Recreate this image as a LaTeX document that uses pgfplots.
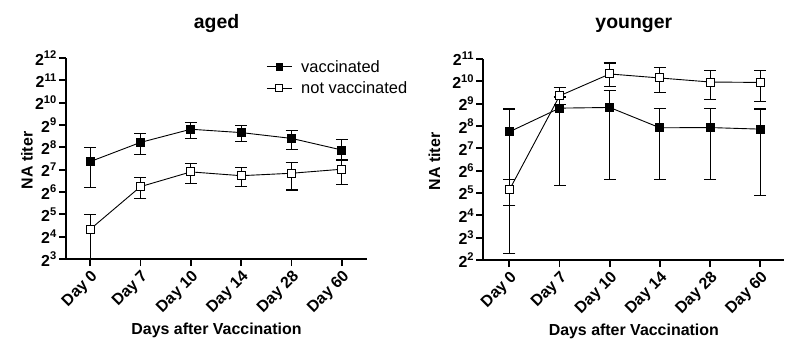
\documentclass[border=0pt]{standalone}
\usepackage{fontspec}
\setmainfont{Liberation Sans}
\usepackage{pgfplots}
\pgfplotsset{compat=1.18}
\usepackage{pgfplotstable}

\pgfplotstableread{
x y hi lo
0 7.36 8.01 6.20
1 8.22 8.61 7.69
2 8.81 9.12 8.40
3 8.66 8.97 8.27
4 8.40 8.75 7.91
5 7.88 8.34 7.46
}\agedvac
\pgfplotstableread{
x y hi lo
0 4.33 4.98 3.03
1 6.24 6.64 5.70
2 6.90 7.27 6.40
3 6.73 7.10 6.26
4 6.84 7.31 6.09
5 7.02 7.43 6.34
}\agednot
\pgfplotstableread{
x y hi lo
0 7.74 8.76 2.30
1 8.80 9.30 5.32
2 8.83 9.58 5.62
3 7.92 8.77 5.60
4 7.93 8.77 5.60
5 7.86 8.76 4.88
}\youngvac
\pgfplotstableread{
x y hi lo
0 5.14 5.62 4.43
1 9.35 9.74 8.95
2 10.33 10.82 9.77
3 10.15 10.60 9.52
4 9.97 10.49 9.19
5 9.95 10.50 9.09
}\youngnot

\pgfplotsset{
  mystyle/.style={
    scale only axis, width=301bp, height=201bp,
    axis lines*=left,
    axis line style={line width=2.2bp, black},
    major tick length=7bp,
    tick style={line width=1.8bp, black},
    tick align=outside,
    xtick={0,...,5},
    xticklabels={Day 0, Day 7, Day 10, Day 14, Day 28, Day 60},
    x tick label style={rotate=45, anchor=north east, font=\fontsize{16}{16}\selectfont\bfseries, inner sep=2bp},
    y tick label style={font=\fontsize{16}{16}\selectfont\bfseries, inner sep=2bp},
    yticklabel={\pgfmathtruncatemacro{\e}{\tick}2\textsuperscript{\e}},
    xlabel={Days after Vaccination},
    ylabel={NA titer},
    label style={font=\fontsize{16}{16}\selectfont\bfseries},
    x label style={at={(axis description cs:0.5,-0.353)}, anchor=center},
    title style={at={(axis description cs:0.5,1.14)}, anchor=center, font=\fontsize{19.5}{20}\selectfont\bfseries},
    clip=false,
  },
  vac/.style={black, line width=0.9bp, mark=square*, mark size=4bp, mark options={solid, fill=black, draw=black},
    error bars/.cd, y dir=both, y explicit, error mark=|,
    error bar style={line width=1.1bp, black},
    error mark options={mark size=6bp, line width=1.1bp, black}},
  nvac/.style={black, line width=0.9bp, mark=square*, mark size=4bp, mark options={solid, fill=white, draw=black, line width=1bp},
    error bars/.cd, y dir=both, y explicit, error mark=|,
    error bar style={line width=1.1bp, black},
    error mark options={mark size=6bp, line width=1.1bp, black}},
}

\begin{document}
\begin{tikzpicture}
\useasboundingbox (0,0) rectangle (800bp,358bp);
\begin{axis}[mystyle, at={(66bp,99bp)}, anchor=south west,
  xmin=-0.48, xmax=5.5, ymin=3, ymax=12, ytick={3,...,12},
  title={aged},
  y label style={at={(axis description cs:-0.13,0.49)}, anchor=center},
  legend style={draw=none, fill=none, font=\fontsize{16.5}{19}\selectfont, at={(axis description cs:0.655,1.01)}, anchor=north west, row sep=4bp,
    /tikz/every odd column/.append style={column sep=7bp}},
  legend cell align=left,
  legend image code/.code={\draw[mark repeat=2,mark phase=2,#1, mark size=3.3bp] plot coordinates {(0bp,0bp)(12.5bp,0bp)(25bp,0bp)};},
]
\addplot[vac] table[x=x, y=y, y error plus expr=\thisrow{hi}-\thisrow{y}, y error minus expr=\thisrow{y}-\thisrow{lo}] {\agedvac};
\addplot[nvac] table[x=x, y=y, y error plus expr=\thisrow{hi}-\thisrow{y}, y error minus expr=\thisrow{y}-\thisrow{lo}] {\agednot};
\legend{vaccinated, not vaccinated}
\end{axis}
\begin{axis}[mystyle, at={(483.3bp,98bp)}, anchor=south west,
  xmin=-0.52, xmax=5.48, ymin=2, ymax=11, ytick={2,...,11},
  title={younger},
  y label style={at={(axis description cs:-0.162,0.49)}, anchor=center},
]
\addplot[vac] table[x=x, y=y, y error plus expr=\thisrow{hi}-\thisrow{y}, y error minus expr=\thisrow{y}-\thisrow{lo}] {\youngvac};
\addplot[nvac] table[x=x, y=y, y error plus expr=\thisrow{hi}-\thisrow{y}, y error minus expr=\thisrow{y}-\thisrow{lo}] {\youngnot};
\end{axis}
\end{tikzpicture}
\end{document}
